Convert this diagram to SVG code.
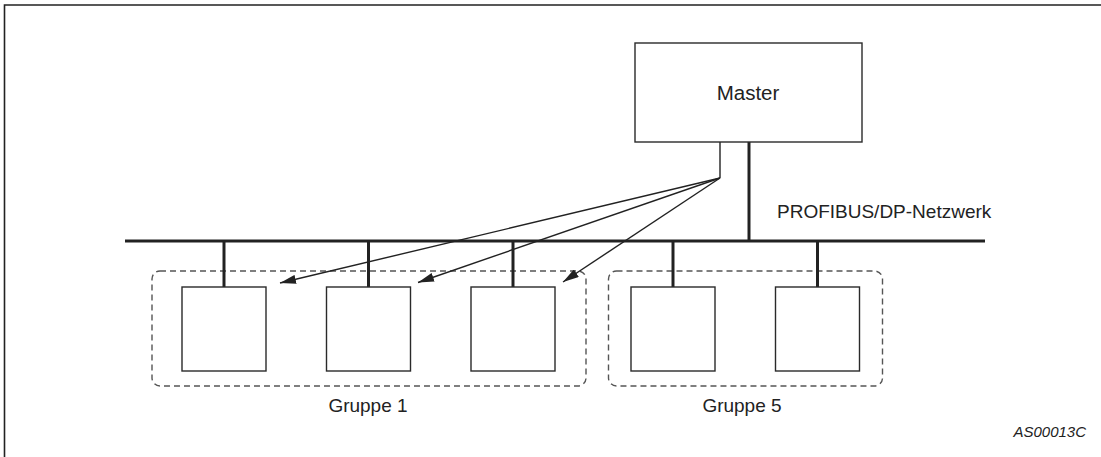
<svg xmlns="http://www.w3.org/2000/svg" width="1101" height="457" viewBox="0 0 1101 457">
<style>
.box{fill:#fff;stroke:#2a2a2a;stroke-width:1.4}
.bus{stroke:#222;stroke-width:3;fill:none}
.thin{stroke:#222;stroke-width:1.4;fill:none}
.grp{fill:none;stroke:#555;stroke-width:1.4;stroke-dasharray:6,4}
.lbl{font-family:"Liberation Sans",Arial,sans-serif;font-size:19px;fill:#222}
.frame{stroke:#222;stroke-width:1.6;fill:none}
</style>
<defs>
<marker id="ah" viewBox="0 0 16 9" refX="16" refY="4.5" markerWidth="16" markerHeight="9" markerUnits="userSpaceOnUse" orient="auto">
<path d="M0,0 L16,4.5 L0,9 Z" fill="#222"/>
</marker>
</defs>
<path class="frame" d="M4.5,457 V5 H1101"/>
<g id="groups">
<rect class="grp" x="152" y="271" width="434" height="115" rx="8"/>
<rect class="grp" x="608.5" y="271" width="274" height="115" rx="8"/>
</g>
<g id="connectors">
<line class="bus" x1="125" y1="241" x2="985" y2="241"/>
<line class="bus" x1="749" y1="142" x2="749" y2="241"/>
<line class="bus" x1="224" y1="241" x2="224" y2="287"/>
<line class="bus" x1="368.5" y1="241" x2="368.5" y2="287"/>
<line class="bus" x1="513" y1="241" x2="513" y2="287"/>
<line class="bus" x1="673" y1="241" x2="673" y2="287"/>
<line class="bus" x1="817.5" y1="241" x2="817.5" y2="287"/>
<polyline class="thin" points="720,142 720,178"/>
<line class="thin" x1="720" y1="178" x2="280" y2="283" marker-end="url(#ah)"/>
<line class="thin" x1="720" y1="178" x2="418" y2="282.5" marker-end="url(#ah)"/>
<line class="thin" x1="720" y1="178" x2="563" y2="282" marker-end="url(#ah)"/>
</g>
<g id="master">
<rect class="box" x="635" y="43" width="227" height="99"/>
<text class="lbl" x="748" y="100" text-anchor="middle" style="font-size:20.5px">Master</text>
</g>
<g id="slave1"><rect class="box" x="182" y="287" width="84" height="84"/></g>
<g id="slave2"><rect class="box" x="326.5" y="287" width="84" height="84"/></g>
<g id="slave3"><rect class="box" x="471" y="287" width="84" height="84"/></g>
<g id="slave4"><rect class="box" x="631" y="287" width="84" height="84"/></g>
<g id="slave5"><rect class="box" x="775.5" y="287" width="84" height="84"/></g>
<g id="labels">
<text class="lbl" x="777" y="218">PROFIBUS/DP-Netzwerk</text>
<text class="lbl" x="368" y="412" text-anchor="middle">Gruppe 1</text>
<text class="lbl" x="742" y="412" text-anchor="middle">Gruppe 5</text>
<text class="lbl" x="1086" y="437" text-anchor="end" font-style="italic" style="font-size:15px">AS00013C</text>
</g>
</svg>
